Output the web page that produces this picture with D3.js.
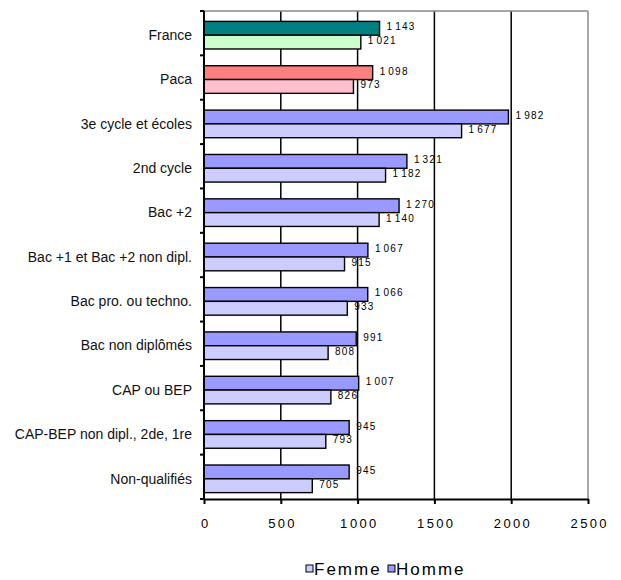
<html>
  <meta charset="UTF-8">
  <head>
    <title>Salaires Homme / Femme</title>
    <style>
      body { margin: 0; background: #fff; }
      text { font-family: "Liberation Sans", Arial, sans-serif; fill: #000; }
      .cat text { font-size: 14px; fill: #111; }
      .xaxis text { font-size: 13px; letter-spacing: 2.3px; }
      .val { font-size: 10px; letter-spacing: 1.2px; }
      .legend text { font-size: 17px; letter-spacing: 2px; }
      .bar { stroke: #000; stroke-width: 1.4px; }
    </style>
    <script src="https://cdn.jsdelivr.net/npm/d3@7"></script>
  </head>
  <body>
    <script type="text/javascript">
      /* ==== Data ==== */
      var categories = ["France", "Paca", "3e cycle et écoles", "2nd cycle", "Bac +2",
          "Bac +1 et Bac +2 non dipl.", "Bac pro. ou techno.", "Bac non diplômés",
          "CAP ou BEP", "CAP-BEP non dipl., 2de, 1re", "Non-qualifiés"];
      var homme = [1143, 1098, 1982, 1321, 1270, 1067, 1066, 991, 1007, 945, 945];
      var femme = [1021, 973, 1677, 1182, 1140, 915, 933, 808, 826, 793, 705];
      var xTicks = [0, 500, 1000, 1500, 2000, 2500];
      var seriesNames = ["Femme", "Homme"];

      // colours: France and Paca get their own pair
      var hommeColors = {"France": "#008080", "Paca": "#ff8080"};
      var femmeColors = {"France": "#ccffcc", "Paca": "#ffbfcc"};
      var defaultColors = {"Homme": "#9999ff", "Femme": "#ccccff"};

      var fr = d3.formatLocale({decimal: ",", thousands: " ", grouping: [3], currency: ["", " €"]});
      var fmt = fr.format(",d");

      // write "1 000" with a very narrow space (like the original export)
      function narrowSpaces(sel, spaceSize) {
          sel.each(function(d) {
              var t = d3.select(this);
              var parts = t.text().split(" ");
              t.text("");
              parts.forEach(function(p, i) {
                  if (i > 0) {
                      t.append("tspan")
                          .style("font-size", spaceSize + "px")
                          .style("letter-spacing", "0px")
                          .text(" ");
                  }
                  t.append("tspan").text(p);
              });
          });
      }

      /* ==== Layout ==== */
      var width = 621, height = 580;
      var plot = {left: 204, right: 588, top: 11, bottom: 499};

      var svg = d3.select("body").append("svg")
          .attr("width", width)
          .attr("height", height);

      var x = d3.scaleLinear()
          .domain([0, 2500])
          .range([plot.left, plot.right]);

      var y = d3.scaleBand()
          .domain(categories)
          .range([plot.top, plot.bottom]);

      // the two bars inside a category band
      var pairH = 27.6;
      var yInner = d3.scaleBand()
          .domain(["Homme", "Femme"])
          .range([0, pairH]);
      var pairOffset = (y.bandwidth() - pairH) / 2 + 2;

      var rows = categories.map(function(c, i) {
          return {cat: c, Homme: homme[i], Femme: femme[i]};
      });

      /* ==== Gridlines + frame ==== */
      svg.append("g").selectAll("line")
          .data(xTicks.slice(1, -1))
          .join("line")
          .attr("x1", function(d) { return x(d); })
          .attr("x2", function(d) { return x(d); })
          .attr("y1", plot.top)
          .attr("y2", plot.bottom)
          .attr("stroke", "#000")
          .attr("stroke-width", 1.5);

      svg.append("line")
          .attr("x1", x(2500)).attr("x2", x(2500))
          .attr("y1", plot.top).attr("y2", plot.bottom)
          .attr("stroke", "#888").attr("stroke-width", 1.5);
      svg.append("line")
          .attr("x1", plot.left).attr("x2", x(2500))
          .attr("y1", plot.top).attr("y2", plot.top)
          .attr("stroke", "#888").attr("stroke-width", 1.5);

      /* ==== Bars ==== */
      var groups = svg.append("g").selectAll("g")
          .data(rows)
          .join("g")
          .attr("transform", function(d) {
              return "translate(0," + (y(d.cat) + pairOffset) + ")";
          });

      ["Homme", "Femme"].forEach(function(s) {
          groups.append("rect")
              .attr("class", "bar")
              .attr("x", x(0))
              .attr("y", yInner(s))
              .attr("width", function(d) { return x(d[s]) - x(0); })
              .attr("height", yInner.bandwidth())
              .attr("fill", function(d) {
                  var m = s === "Homme" ? hommeColors : femmeColors;
                  return m[d.cat] || defaultColors[s];
              });

          var labels = groups.append("text")
              .attr("class", "val")
              .attr("x", function(d) { return x(d[s]) + 7; })
              .attr("y", yInner(s) + yInner.bandwidth() / 2 + 2)
              .text(function(d) { return fmt(d[s]); });
          narrowSpaces(labels, 7);
      });

      /* ==== Axes ==== */
      var xAxis = svg.append("g")
          .attr("class", "xaxis")
          .attr("transform", "translate(0," + plot.bottom + ")")
          .call(d3.axisBottom(x).tickValues(xTicks).tickSize(5).tickSizeOuter(0)
              .tickFormat(fmt));
      xAxis.select(".domain").attr("stroke-width", 2);
      xAxis.selectAll(".tick line").attr("stroke-width", 2);
      xAxis.selectAll(".tick text")
          .attr("y", 20)
          .attr("dx", "1.2px")
          .attr("font-family", null)
          .attr("font-size", null)
          .call(narrowSpaces, 1);

      // left axis: labels in the band centres, ticks on the band edges
      var yAxis = svg.append("g")
          .attr("class", "cat")
          .attr("transform", "translate(" + plot.left + ",0)")
          .call(d3.axisLeft(y).tickSize(0).tickPadding(12));
      yAxis.select(".domain").remove();
      yAxis.selectAll(".tick text")
          .attr("dy", "0.34em")
          .attr("y", pairOffset + pairH / 2 - y.bandwidth() / 2)
          .attr("font-family", null)
          .attr("font-size", null);

      var edges = categories.map(function(c) { return y(c); }).concat([plot.bottom]);
      svg.append("g").selectAll("line")
          .data(edges)
          .join("line")
          .attr("x1", plot.left - 4)
          .attr("x2", plot.left)
          .attr("y1", function(d) { return d; })
          .attr("y2", function(d) { return d; })
          .attr("stroke", "#000")
          .attr("stroke-width", 2);
      svg.append("line")
          .attr("x1", plot.left).attr("x2", plot.left)
          .attr("y1", plot.top).attr("y2", plot.bottom + 1)
          .attr("stroke", "#000").attr("stroke-width", 2);

      /* ==== Legend ==== */
      var legendX = {"Femme": 306, "Homme": 388};
      var legend = svg.append("g").attr("class", "legend")
          .selectAll("g")
          .data(seriesNames)
          .join("g")
          .attr("transform", function(d) { return "translate(" + legendX[d] + ",565)"; });
      legend.append("rect")
          .attr("width", 7)
          .attr("height", 7)
          .attr("fill", function(d) { return defaultColors[d]; })
          .attr("stroke", "#000")
          .attr("stroke-width", 1);
      legend.append("text")
          .attr("x", 8)
          .attr("y", 10)
          .text(function(d) { return d; });
    </script>
  </body>
</html>
